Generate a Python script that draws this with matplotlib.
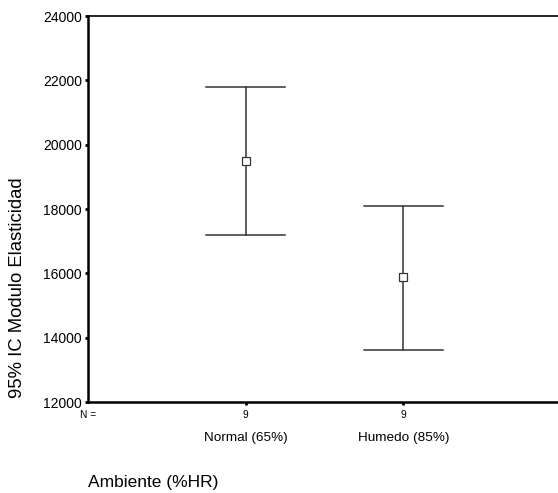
import matplotlib.pyplot as plt

plt.rcParams['font.family'] = ['Liberation Sans', 'DejaVu Sans']

# data
groups = ['Normal (65%)', 'Humedo (85%)']
n_counts = [9, 9]
means = [19500, 15890]
ci_low = [17190, 13630]
ci_high = [21790, 18100]
yticks = [12000, 14000, 16000, 18000, 20000, 22000, 24000]

fig = plt.figure(figsize=(5.58, 4.93), dpi=100)
W, H = 558, 493
# axes: left spine at x=88, top at y=16, bottom at y=402, right edge just off the picture
ax = fig.add_axes([88 / W, (H - 402) / H, (561 - 88) / W, (402 - 16) / H])

xs = [1, 2]
for x, m, lo, hi in zip(xs, means, ci_low, ci_high):
    ax.plot([x, x], [lo, hi], color='#333333', lw=1.1)
    ax.plot([x - 0.25, x + 0.25], [lo, lo], color='#333333', lw=1.1)
    ax.plot([x - 0.25, x + 0.25], [hi, hi], color='#333333', lw=1.1)
    ax.plot(x, m, marker='s', ms=5.5, mfc='white', mec='#333333', mew=0.9)

ax.set_xlim(0, 3)
ax.set_ylim(12000, 24000)
ax.set_yticks(yticks)
ax.set_yticklabels([str(v) for v in yticks], fontsize=10)
ax.tick_params(axis='y', direction='out', length=2.5, width=2, pad=2)

ax.set_xticks(xs)
ax.set_xticklabels(['' for _ in xs])
ax.tick_params(axis='x', direction='out', length=2.5, width=2)

for s in ['left', 'bottom']:
    ax.spines[s].set_linewidth(1.8)
ax.spines['top'].set_linewidth(1.2)
ax.spines['right'].set_visible(False)

# N = row and group labels below the axis
tr = ax.get_xaxis_transform()
ax.text(0, -13 / 386, 'N =', transform=tr, ha='center', va='center', fontsize=7.3)
for x, n, g in zip(xs, n_counts, groups):
    ax.text(x, -13 / 386, str(n), transform=tr, ha='center', va='center', fontsize=7.3)
    ax.text(x, -36 / 386, g, transform=tr, ha='center', va='center', fontsize=9.7)

fig.text(88 / W, 1 - 483 / H, 'Ambiente (%HR)', ha='left', va='center', fontsize=12.5)
fig.text(18 / W, 1 - 288 / H, '95% IC Modulo Elasticidad', rotation=90, ha='center', va='center', fontsize=13.3)

fig.savefig('out.png', dpi=100)
